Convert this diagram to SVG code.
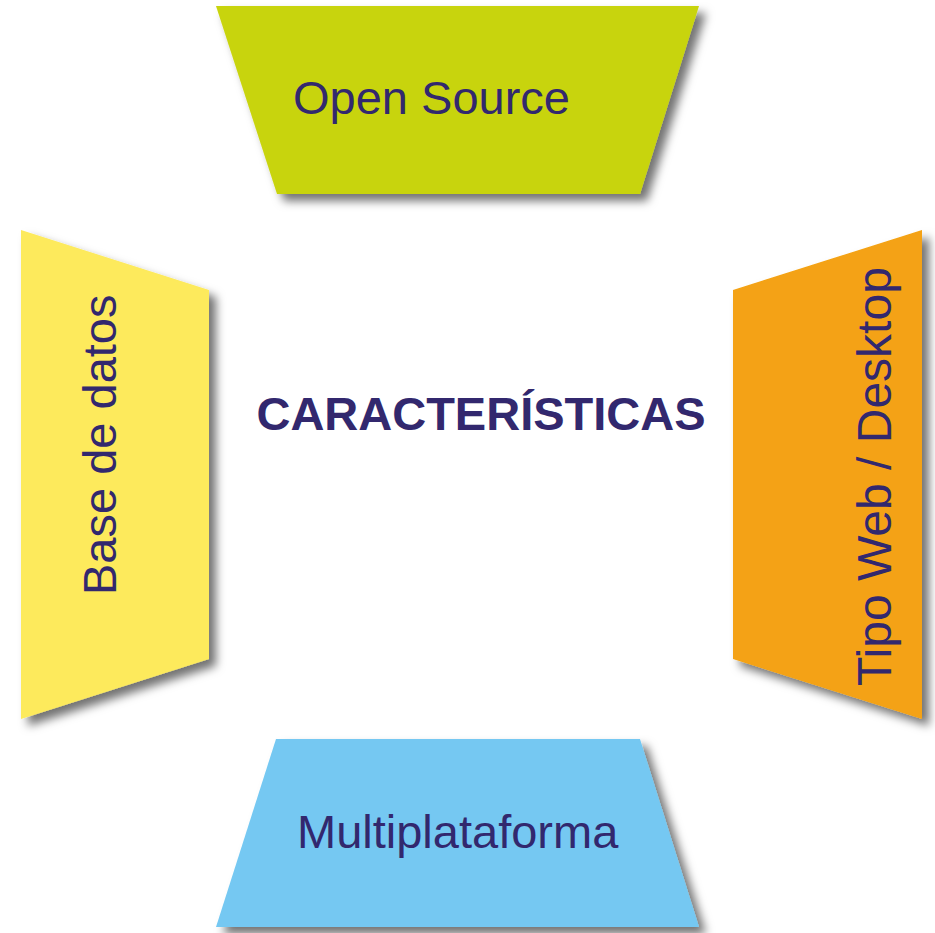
<svg xmlns="http://www.w3.org/2000/svg" width="935" height="933" viewBox="0 0 935 933">
<defs>
<filter id="sh" x="-20%" y="-20%" width="150%" height="150%">
<feDropShadow dx="7" dy="7" stdDeviation="5" flood-color="#000" flood-opacity="0.55"/>
</filter>
<style>
.lbl{font-family:"Liberation Sans",Arial,sans-serif;font-size:47px;fill:#32286E}
.title{font-family:"Liberation Sans",Arial,sans-serif;font-size:47px;font-weight:bold;fill:#32286E}
.shape{filter:url(#sh)}
</style>
</defs>
<rect width="935" height="933" fill="#fff"/>
<g id="connectors"/>
<g id="open-source">
<polygon class="shape" points="216,6 699,6 640,194 277,194" fill="#C8D40C"/>
<text class="lbl" x="293" y="114">Open Source</text>
</g>
<g id="base-de-datos">
<polygon class="shape" points="21,230 209,290 209,659 21,719" fill="#FDEA5C"/>
<text class="lbl" transform="translate(116,595) rotate(-90)">Base de datos</text>
</g>
<g id="tipo-web">
<polygon class="shape" points="733,290 922,230 922,719 733,659" fill="#F4A212"/>
<text class="lbl" style="font-size:48px" transform="translate(891,686) rotate(-90)">Tipo Web / Desktop</text>
</g>
<g id="multiplataforma">
<polygon class="shape" points="276,739 640,739 699,927 216,927" fill="#74C8F2"/>
<text class="lbl" x="297" y="848">Multiplataforma</text>
</g>
<g id="caracteristicas">
<text class="title" x="481" y="430" text-anchor="middle">CARACTERÍSTICAS</text>
</g>
</svg>
